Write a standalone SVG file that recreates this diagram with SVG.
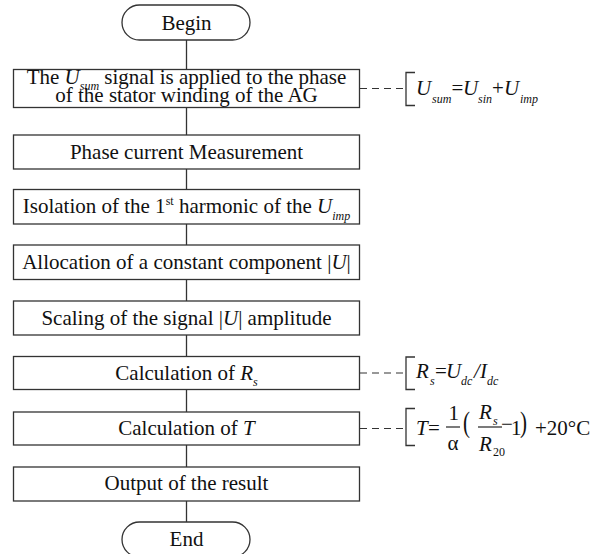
<svg xmlns="http://www.w3.org/2000/svg" width="599" height="554" viewBox="0 0 599 554">
<style>
.box{fill:#fff;stroke:#333;stroke-width:1.3}
.t{font-family:"Liberation Serif","Times New Roman",serif;font-size:21px;fill:#111;text-anchor:middle}
.f{font-family:"Liberation Serif","Times New Roman",serif;font-size:21px;fill:#111}
.i{font-style:italic}
.s{font-size:12px;font-style:italic}
.ln{stroke:#333;stroke-width:1.3;fill:none}
.d{stroke:#333;stroke-width:1.2;stroke-dasharray:7,5;fill:none}
</style>
<rect width="599" height="554" fill="#fff"/>
<g id="connectors">
<line class="ln" x1="186.5" y1="40" x2="186.5" y2="69.5"/>
<line class="ln" x1="186.5" y1="107.5" x2="186.5" y2="135"/>
<line class="ln" x1="186.5" y1="169" x2="186.5" y2="189.5"/>
<line class="ln" x1="186.5" y1="224" x2="186.5" y2="245"/>
<line class="ln" x1="186.5" y1="279.5" x2="186.5" y2="301"/>
<line class="ln" x1="186.5" y1="335" x2="186.5" y2="356.5"/>
<line class="ln" x1="186.5" y1="389.5" x2="186.5" y2="412"/>
<line class="ln" x1="186.5" y1="445" x2="186.5" y2="467"/>
<line class="ln" x1="186.5" y1="501" x2="186.5" y2="522"/>
<line class="d" x1="360" y1="88.5" x2="406" y2="88.5"/>
<line class="d" x1="360" y1="373" x2="406" y2="373"/>
<line class="d" x1="360" y1="428.5" x2="406" y2="428.5"/>
</g>
<g id="begin">
<rect class="box" x="122" y="5" width="128" height="35" rx="17.5"/>
<text class="t" x="186.5" y="30">Begin</text>
</g>
<g id="n1">
<rect class="box" x="13.5" y="69.5" width="346" height="38"/>
<text class="t" x="186.5" y="84">The <tspan class="i">U</tspan><tspan class="s" dy="6">sum</tspan><tspan dy="-6"> signal is applied to the phase</tspan></text>
<text class="t" x="186.5" y="102">of the stator winding of the AG</text>
</g>
<g id="n2">
<rect class="box" x="13.5" y="135" width="346" height="34"/>
<text class="t" x="186.5" y="158.5">Phase current Measurement</text>
</g>
<g id="n3">
<rect class="box" x="13.5" y="189.5" width="346" height="34.5"/>
<text class="t" x="186.5" y="213">Isolation of the 1<tspan font-size="12" dy="-8">st</tspan><tspan dy="8"> harmonic of the </tspan><tspan class="i">U</tspan><tspan class="s" dy="7">imp</tspan></text>
</g>
<g id="n4">
<rect class="box" x="13.5" y="245" width="346" height="34.5"/>
<text class="t" x="186.5" y="268.5">Allocation of a constant component |<tspan class="i">U</tspan>|</text>
</g>
<g id="n5">
<rect class="box" x="13.5" y="301" width="346" height="34"/>
<text class="t" x="186.5" y="324.5">Scaling of the signal |<tspan class="i">U</tspan>| amplitude</text>
</g>
<g id="n6">
<rect class="box" x="13.5" y="356.5" width="346" height="33"/>
<text class="t" x="186.5" y="379.5">Calculation of <tspan class="i">R</tspan><tspan class="s" dy="6">s</tspan></text>
</g>
<g id="n7">
<rect class="box" x="13.5" y="412" width="346" height="33"/>
<text class="t" x="186.5" y="435">Calculation of <tspan class="i">T</tspan></text>
</g>
<g id="n8">
<rect class="box" x="13.5" y="467" width="346" height="34"/>
<text class="t" x="186.5" y="490">Output of the result</text>
</g>
<g id="end">
<rect class="box" x="122" y="522" width="128" height="35" rx="17.5"/>
<text class="t" x="186.5" y="546">End</text>
</g>
<g id="formula1">
<path class="ln" d="M415,72.5 H406 V105.5 H415"/>
<text class="f" y="95"><tspan class="i" x="416">U</tspan><tspan class="s" x="432" y="103">sum</tspan><tspan x="451.5" y="95">=</tspan><tspan class="i" x="463">U</tspan><tspan class="s" x="478" y="103">sin</tspan><tspan x="492" y="95">+</tspan><tspan class="i" x="504">U</tspan><tspan class="s" x="520" y="103">imp</tspan></text>
</g>
<g id="formula2">
<path class="ln" d="M415,357 H406 V389.5 H415"/>
<text class="f" y="378"><tspan class="i" x="416">R</tspan><tspan class="s" x="430" y="385">s</tspan><tspan x="435" y="378">=</tspan><tspan class="i" x="446">U</tspan><tspan class="s" x="461" y="385">dc</tspan><tspan class="i" x="474" y="378">/</tspan><tspan class="i" x="480">I</tspan><tspan class="s" x="487" y="385">dc</tspan></text>
</g>
<g id="formula3">
<path class="ln" d="M415,408.5 H406 V445.5 H415"/>
<text class="f" y="435"><tspan class="i" x="416">T</tspan><tspan x="428">=</tspan></text>
<text class="f" x="448.5" y="420">1</text>
<line class="ln" x1="446" y1="427" x2="460" y2="427"/>
<text class="f" x="447.5" y="450">α</text>
<text class="f" font-size="28" transform="translate(463,432) scale(1,1.4)">(</text>
<text class="f" y="419"><tspan class="i" x="479">R</tspan><tspan class="s" x="493" y="425">s</tspan></text>
<line class="ln" x1="478" y1="427" x2="502" y2="427"/>
<text class="f" y="451"><tspan class="i" x="479">R</tspan><tspan font-size="12" x="493" y="456">20</tspan></text>
<text class="f" font-size="16" x="501" y="431">−</text>
<text class="f" x="511" y="435">1</text>
<text class="f" font-size="28" transform="translate(520,432) scale(1,1.4)">)</text>
<text class="f" x="535" y="435">+20°C</text>
</g>
</svg>
